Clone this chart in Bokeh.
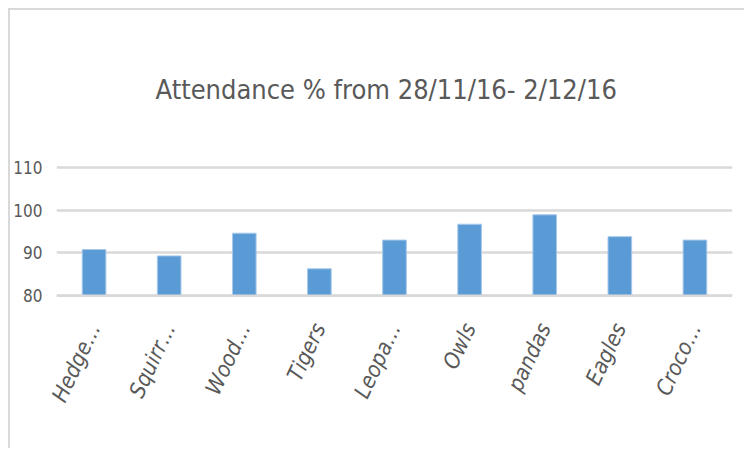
from bokeh.plotting import figure
from bokeh.models import Range1d, FactorRange, Span, FixedTicker
from bokeh.embed import file_html
from bokeh.resources import INLINE

categories = ["Hedge…", "Squirr…", "Wood…", "Tigers", "Leopa…", "Owls", "pandas", "Eagles", "Croco…"]
attendance = [90.8, 89.3, 94.6, 86.3, 93.0, 96.7, 98.9, 93.8, 93.0]
y_ticks = [80, 90, 100, 110]
title_text = "Attendance % from 28/11/16- 2/12/16"

FONT = "'Liberation Sans Narrow', 'DejaVu Sans Condensed', 'Liberation Sans', sans-serif"
TXT = "#595959"

p = figure(width=736, height=440, output_backend="svg", toolbar_location=None,
           x_range=FactorRange(*categories, range_padding=0),
           y_range=Range1d(79.6, 110.4),
           min_border_left=30, min_border_right=14, min_border_top=155, min_border_bottom=153,
           title=title_text)
p.margin = (8, 0, 0, 8)
p.outline_line_color = None
p.background_fill_color = "white"
p.border_fill_color = "white"

p.title.align = "left"
p.title.text_font = FONT
p.title.text_font_size = "27px"
p.title.text_font_style = "normal"
p.title.text_color = TXT
p.title.standoff = 121
p.title.offset = 99

p.vbar(x=categories, top=attendance, bottom=80, width=0.315,
       fill_color="#5b9bd5", line_color="#a8c9ea", line_width=1)

p.add_layout(Span(location=80, dimension="width", line_color="#d9d9d9", line_width=2.5, level="overlay"))

p.xgrid.grid_line_color = None
p.ygrid.grid_line_color = "#d9d9d9"
p.ygrid.grid_line_width = 2.5
p.yaxis.ticker = FixedTicker(ticks=y_ticks)

for ax in (p.xaxis, p.yaxis):
    ax.axis_line_color = None
    ax.major_tick_line_color = None
    ax.minor_tick_line_color = None
    ax.major_label_text_font = FONT
    ax.major_label_text_color = TXT

p.yaxis.major_label_text_font_size = "17px"
p.yaxis.major_label_standoff = 8
p.xaxis.major_label_text_font_size = "22px"
p.xaxis.major_label_orientation = 1.13
p.xaxis.major_label_standoff = 21
p.xaxis.major_label_text_font_style = "italic"

p.styles = {"border-left": "2px solid #d9d9d9", "border-top": "2px solid #d9d9d9"}

open("out.html", "w").write(file_html(p, INLINE))
